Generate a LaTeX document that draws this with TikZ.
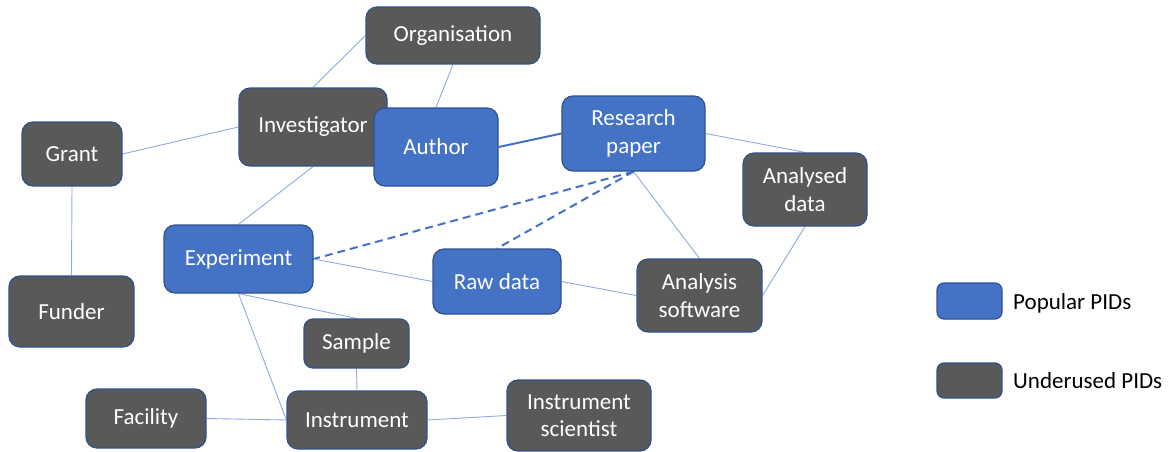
\documentclass[tikz,border=0pt]{standalone}
\usepackage{fontspec}
\setmainfont{Carlito}
\usetikzlibrary{backgrounds}
\definecolor{popblue}{HTML}{4472C4}
\definecolor{edgeblue}{HTML}{2F528F}
\definecolor{undergrey}{HTML}{595959}
\definecolor{linkblue}{HTML}{8FAADC}
\begin{document}
\begin{tikzpicture}[x=1pt,y=-1pt,
  pid/.style={draw=edgeblue, line width=1.2pt, rounded corners=11pt, inner sep=0pt,
    text=white, align=center, font=\fontsize{23}{27.5}\selectfont},
  popular/.style={pid, fill=popblue},
  underused/.style={pid, fill=undergrey},
  link/.style={draw=linkblue, line width=0.9pt},
  strong/.style={draw=popblue, line width=2pt},
  cites/.style={draw=popblue, line width=2pt, dash pattern=on 8pt off 5pt},
  legendtext/.style={anchor=base west, inner sep=0pt, font=\fontsize{23}{27.5}\selectfont}]
\useasboundingbox (0,0) rectangle (1172,452);

% boxes
\node[underused, minimum width=174pt, minimum height=57pt] (org) at (453,35.5) {Organisation};
\node[underused, minimum width=148pt, minimum height=78pt] (inv) at (313,127) {Investigator};
\node[popular, minimum width=124pt, minimum height=78pt] (author) at (436,147) {Author};
\node[popular, minimum width=143pt, minimum height=75pt] (rp) at (633.5,133.5) {Research\\paper};
\node[underused, minimum width=100pt, minimum height=64pt] (grant) at (72,154) {Grant};
\node[underused, minimum width=124pt, minimum height=73pt] (ad) at (805,189.5) {Analysed\\data};
\node[popular, minimum width=149pt, minimum height=68pt] (exp) at (238.5,259) {Experiment};
\node[popular, minimum width=128pt, minimum height=65pt] (raw) at (497,281.5) {Raw data};
\node[underused, minimum width=125pt, minimum height=73pt] (as) at (699.5,295.5) {Analysis\\software};
\node[underused, minimum width=125pt, minimum height=71pt] (funder) at (71.5,311.5) {Funder};
\node[underused, minimum width=105pt, minimum height=49pt, rounded corners=9pt] (sample) at (356.5,343.5) {Sample};
\node[underused, minimum width=120pt, minimum height=59pt] (fac) at (146,418.5) {Facility};
\node[underused, minimum width=140pt, minimum height=58pt] (instr) at (357,420) {Instrument};
\node[underused, minimum width=144pt, minimum height=71pt] (isci) at (579,415.5) {Instrument\\scientist};

% legend
\node[popular, minimum width=65pt, minimum height=36pt, rounded corners=7pt] (lgpop) at (969.5,301) {};
\node[underused, minimum width=65pt, minimum height=35pt, rounded corners=7pt] (lgund) at (969.5,380.5) {};
\node[legendtext] (lgpoptext) at (1013,309) {Popular PIDs};
\node[legendtext] (lgundtext) at (1013,388) {Underused PIDs};

% connectors, kept behind the boxes
\begin{pgfonlayer}{background}
  \draw[link] (inv.north) -- (org.west);
  \draw[link] (org.south) -- (author.north);
  \draw[strong] (author.east) -- (rp.west);
  \draw[link] (rp.east) -- (ad.north);
  \draw[link] (rp.south) -- (as.north);
  \draw[link] (ad.south) -- (as.east);
  \draw[cites] (rp.south) -- (exp.east);
  \draw[cites] (rp.south) -- (raw.north);
  \draw[link] (exp.east) -- (raw.west);
  \draw[link] (raw.east) -- (as.west);
  \draw[link] (grant.east) -- (inv.west);
  \draw[link] (grant.south) -- (funder.north);
  \draw[link] (inv.south) -- (exp.north);
  \draw[link] (exp.south) -- (sample.north);
  \draw[link] (exp.south) -- (instr.west);
  \draw[link] (sample.south) -- (instr.north);
  \draw[link] (fac.east) -- (instr.west);
  \draw[link] (instr.east) -- (isci.west);
\end{pgfonlayer}
\end{tikzpicture}
\end{document}
